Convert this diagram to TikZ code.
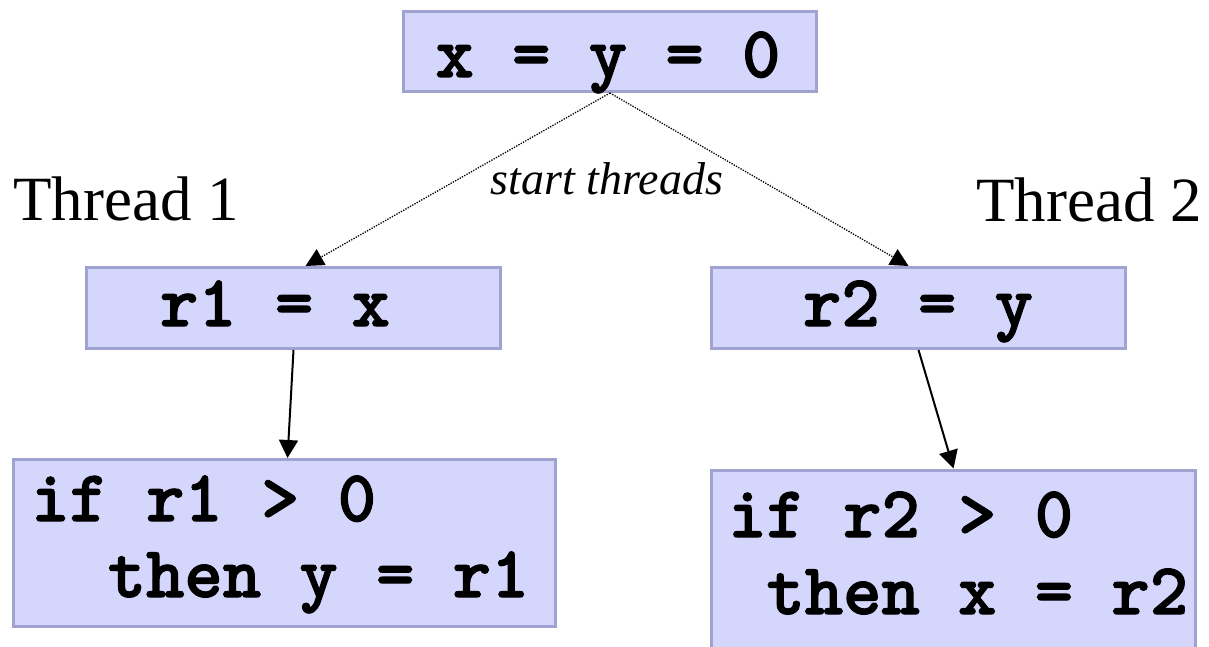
\documentclass[tikz,border=0pt]{standalone}
\usepackage{fontspec}
\setmainfont{Liberation Serif}
\newfontfamily\codefont[FakeBold=1.6]{lmmonolt10-bold.otf}
\usetikzlibrary{arrows.meta}
\definecolor{boxfill}{RGB}{213,214,251}
\definecolor{boxline}{RGB}{160,162,208}
\tikzset{
  codebox/.style={draw=boxline, fill=boxfill, line width=3pt, rectangle, inner sep=0pt},
  code/.style={font=\fontsize{73}{76}\selectfont\codefont, inner sep=0pt},
  thread/.style={font=\fontsize{63}{70}\selectfont, inner sep=0pt},
  spawn/.style={line width=1.3pt, dash pattern=on 1.3pt off 1.3pt, -{Triangle[length=18pt,width=18pt]}},
  flow/.style={line width=2pt, -{Triangle[length=18pt,width=19pt]}}
}
\begin{document}
\begin{tikzpicture}[x=1pt,y=-1pt]
\useasboundingbox (0,0) rectangle (1209,647);
% boxes
\node[codebox, minimum width=413pt, minimum height=80pt] (top) at (610,51.5) {};
\node[codebox, minimum width=414pt, minimum height=81pt] (r1) at (293.5,308) {};
\node[codebox, minimum width=414pt, minimum height=81pt] (r2) at (918.5,308) {};
\node[codebox, minimum width=542pt, minimum height=167pt] (bl) at (284.5,543) {};
\node[codebox, minimum width=484pt, minimum height=210pt] (br) at (953.5,575) {};
% texts
\node[code, anchor=base] (ttop) at (608,77) {x = y = 0};
\node[code, anchor=base] (tr1) at (275,326) {r1 = x};
\node[code, anchor=base] (tr2) at (918,326) {r2 = y};
\node[code, anchor=base west] (bl1) at (31,521) {if r1 > 0};
\node[code, anchor=base west] (bl2) at (107.6,597) {then y = r1};
\node[code, anchor=base west] (br1) at (728,537) {if r2 > 0};
\node[code, anchor=base west] (br2) at (766.3,614) {then x = r2};
\node[thread, anchor=base west] (th1) at (13,220) {Thread 1};
\node[thread, anchor=base east] (th2) at (1202,222) {Thread 2};
\node[font=\fontsize{46}{50}\selectfont\itshape, inner sep=0pt, anchor=base] (st) at (607,194) {start threads};
% connectors
\draw[spawn] (top.south) -- ([xshift=12pt]r1.north);
\draw[spawn] (top.south) -- ([xshift=-10pt]r2.north);
\draw[flow] (r1.south) -- ([xshift=3pt]bl.north);
\draw[flow] (r2.south) -- (br.north);
\end{tikzpicture}
\end{document}
